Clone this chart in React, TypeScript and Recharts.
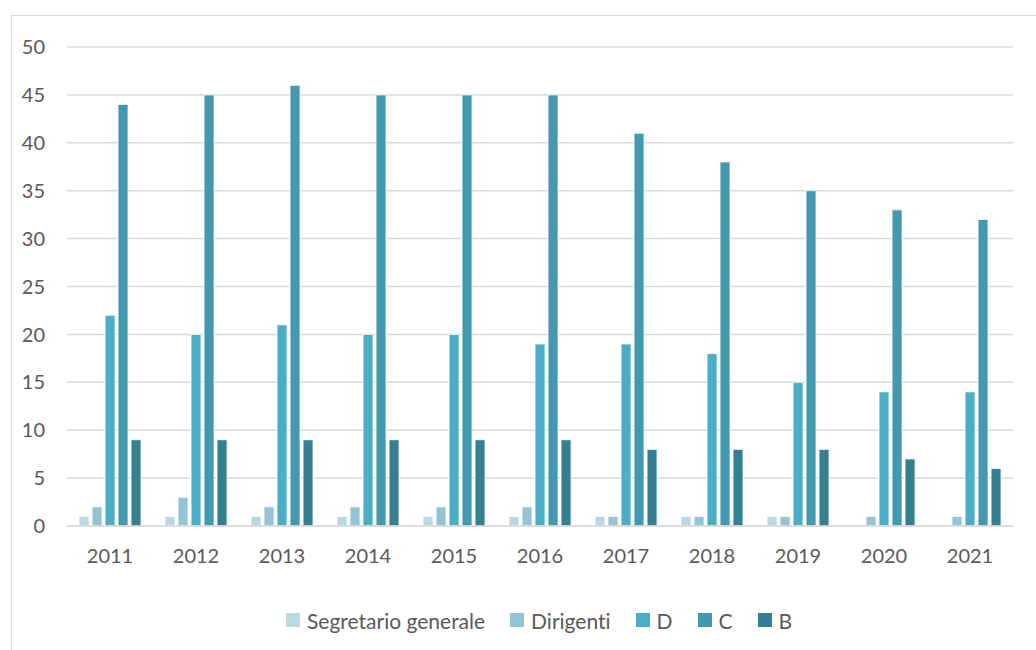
import { BarChart, Bar, XAxis, YAxis, CartesianGrid } from 'recharts'

// ─── Data ────────────────────────────────────────────────────────────────────

const years = ['2011', '2012', '2013', '2014', '2015', '2016', '2017', '2018', '2019', '2020', '2021']
const segretario = [1, 1, 1, 1, 1, 1, 1, 1, 1, 0, 0]
const dirigenti = [2, 3, 2, 2, 2, 2, 1, 1, 1, 1, 1]
const catD = [22, 20, 21, 20, 20, 19, 19, 18, 15, 14, 14]
const catC = [44, 45, 46, 45, 45, 45, 41, 38, 35, 33, 32]
const catB = [9, 9, 9, 9, 9, 9, 8, 8, 8, 7, 6]
const yTicks = [0, 5, 10, 15, 20, 25, 30, 35, 40, 45, 50]

const series = [
  { key: 'seg', name: 'Segretario generale', color: '#BAD7E2' },
  { key: 'dir', name: 'Dirigenti', color: '#93C4D4' },
  { key: 'd', name: 'D', color: '#4BADC6' },
  { key: 'c', name: 'C', color: '#4298AF' },
  { key: 'b', name: 'B', color: '#357F93' },
]

const data = years.map((y, i) => ({
  year: y,
  seg: segretario[i],
  dir: dirigenti[i],
  d: catD[i],
  c: catC[i],
  b: catB[i],
}))

const FONT = 'Lato, "Open Sans", sans-serif'
const TEXT = '#595959'

export default function App() {
  return (
    <div style={{
      position: 'absolute', left: 0, top: 0, width: 1036, height: 650,
      overflow: 'hidden', background: '#fff', fontFamily: FONT,
      fontVariantLigatures: 'none',
    }}>
      {/* chart frame, runs off the right and bottom edge */}
      <div style={{
        position: 'absolute', left: 11, top: 15, width: 1100, height: 700,
        border: '1.5px solid #D9D9D9', boxSizing: 'border-box',
      }} />
      <div style={{ position: 'absolute', left: 0, top: 0 }}>
        <BarChart
          width={1036}
          height={650}
          data={data}
          margin={{ top: 47, right: 23, left: 0, bottom: 0 }}
          barCategoryGap="14%"
          barGap={3}
        >
          <CartesianGrid vertical={false} stroke="#D9D9D9" strokeWidth={1.5} />
          <XAxis
            dataKey="year"
            tickLine={false}
            axisLine={{ stroke: '#D9D9D9', strokeWidth: 1.5 }}
            tick={{ fill: TEXT, fontSize: 20, fontFamily: FONT }}
            tickMargin={17}
            height={124}
            interval={0}
          />
          <YAxis
            domain={[0, 50]}
            ticks={yTicks}
            width={67}
            tickLine={false}
            axisLine={false}
            tickSize={0}
            tickMargin={22}
            tick={{ fill: TEXT, fontSize: 20, fontFamily: FONT }}
            interval={0}
          />
          {series.map((s) => (
            <Bar
              key={s.key}
              dataKey={s.key}
              name={s.name}
              fill={s.color}
              stroke="#ffffff"
              strokeWidth={0.8}
              isAnimationActive={false}
            />
          ))}
        </BarChart>
      </div>

      {/* Legend */}
      <div style={{
        position: 'absolute', left: 286, top: 607, height: 26,
        display: 'flex', alignItems: 'center', gap: 25,
        fontSize: 21, color: TEXT, whiteSpace: 'nowrap',
        fontVariantLigatures: 'none',
      }}>
        {series.map((s) => (
          <div key={s.key} style={{ display: 'flex', alignItems: 'center' }}>
            <span style={{
              width: 14, height: 14, background: s.color,
              display: 'inline-block', marginRight: 7,
            }} />
            {s.name}
          </div>
        ))}
      </div>
    </div>
  )
}
